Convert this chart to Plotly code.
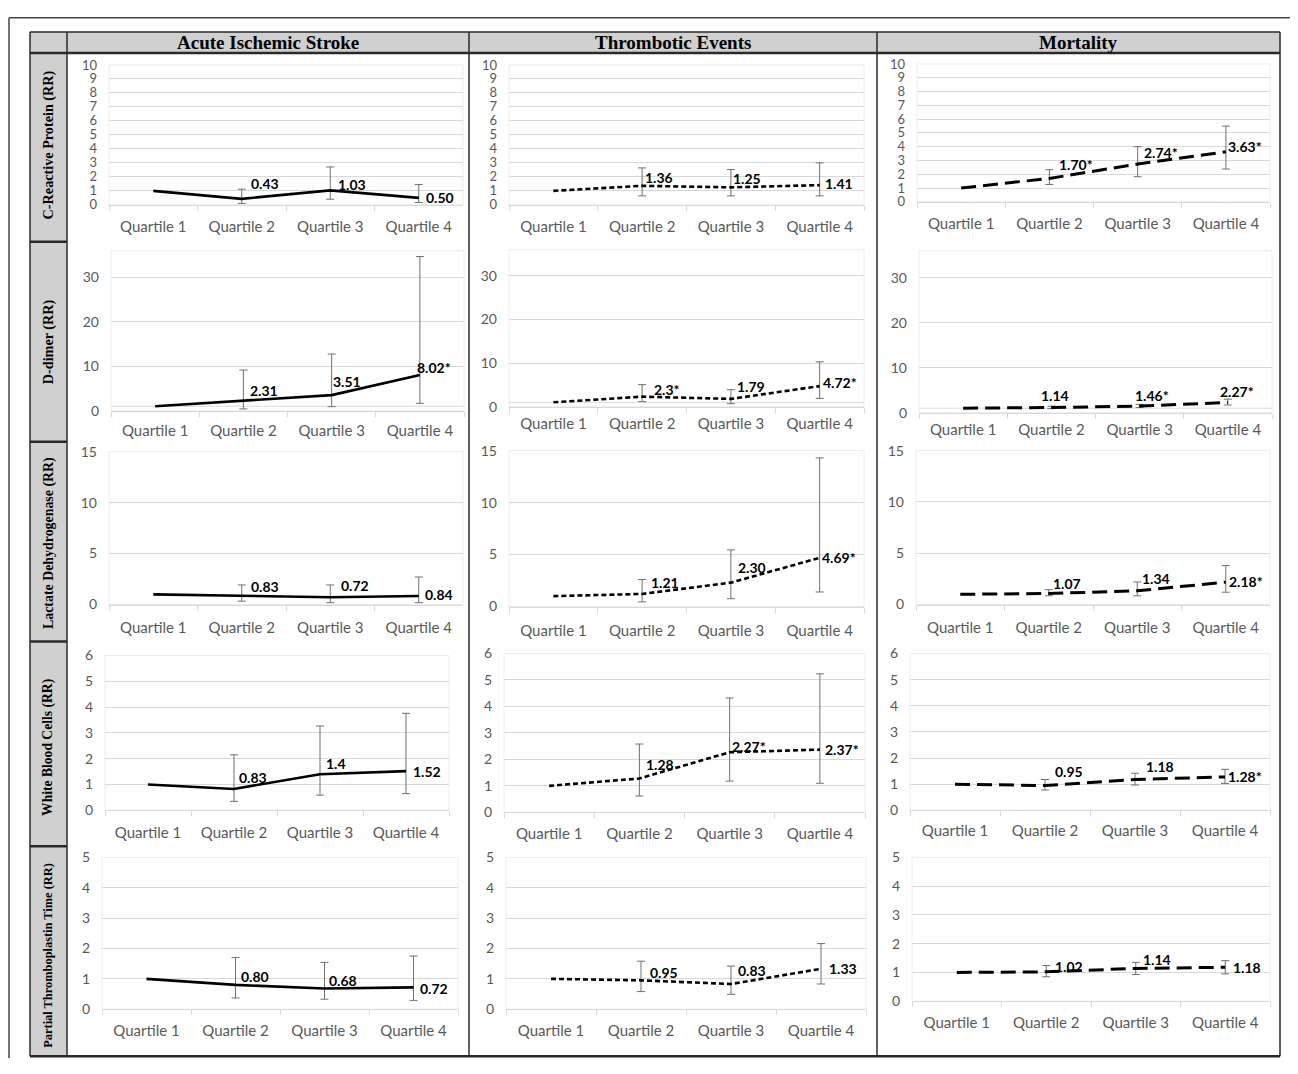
import plotly.graph_objects as go

# ---------------- data ----------------
categories = ["Quartile 1", "Quartile 2", "Quartile 3", "Quartile 4"]
outcomes = ["Acute Ischemic Stroke", "Thrombotic Events", "Mortality"]
markers = ["C-Reactive Protein (RR)", "D-dimer (RR)", "Lactate Dehydrogenase (RR)",
           "White Blood Cells (RR)", "Partial Thromboplastin Time (RR)"]

# each list: [Acute Ischemic Stroke, Thrombotic Events, Mortality]
crp_rr = [[1, 0.43, 1.03, 0.50], [1, 1.36, 1.25, 1.41], [1, 1.70, 2.74, 3.63]]
crp_lo = [[None, 0.10, 0.40, 0.17], [None, 0.64, 0.64, 0.64], [None, 1.26, 1.82, 2.38]]
crp_hi = [[None, 1.12, 2.71, 1.45], [None, 2.64, 2.52, 3.00], [None, 2.33, 4.00, 5.49]]
crp_lbl = [["", "0.43", "1.03", "0.50"], ["", "1.36", "1.25", "1.41"], ["", "1.70*", "2.74*", "3.63*"]]

ddimer_rr = [[1, 2.31, 3.51, 8.02], [1, 2.3, 1.79, 4.72], [1, 1.14, 1.46, 2.27]]
ddimer_lo = [[None, 0.40, 0.90, 1.65], [None, 1.15, 0.70, 1.90], [None, 0.90, 1.15, 1.70]]
ddimer_hi = [[None, 9.15, 12.75, 34.7], [None, 5.05, 3.90, 10.3], [None, 1.45, 1.85, 3.00]]
ddimer_lbl = [["", "2.31", "3.51", "8.02*"], ["", "2.3*", "1.79", "4.72*"], ["", "1.14", "1.46*", "2.27*"]]

ldh_rr = [[1, 0.83, 0.72, 0.84], [1, 1.21, 2.30, 4.69], [1, 1.07, 1.34, 2.18]]
ldh_lo = [[None, 0.33, 0.18, 0.18], [None, 0.45, 0.75, 1.40], [None, 0.85, 0.85, 1.20]]
ldh_hi = [[None, 1.92, 1.92, 2.70], [None, 2.60, 5.45, 14.3], [None, 1.45, 2.20, 3.80]]
ldh_lbl = [["", "0.83", "0.72", "0.84"], ["", "1.21", "2.30", "4.69*"], ["", "1.07", "1.34", "2.18*"]]

wbc_rr = [[1, 0.83, 1.4, 1.52], [1, 1.28, 2.27, 2.37], [1, 0.95, 1.18, 1.28]]
wbc_lo = [[None, 0.35, 0.59, 0.65], [None, 0.62, 1.18, 1.10], [None, 0.78, 0.97, 1.03]]
wbc_hi = [[None, 2.15, 3.27, 3.76], [None, 2.58, 4.32, 5.23], [None, 1.18, 1.42, 1.57]]
wbc_lbl = [["", "0.83", "1.4", "1.52"], ["", "1.28", "2.27*", "2.37*"], ["", "0.95", "1.18", "1.28*"]]

ptt_rr = [[1, 0.80, 0.68, 0.72], [1, 0.95, 0.83, 1.33], [1, 1.02, 1.14, 1.18]]
ptt_lo = [[None, 0.37, 0.33, 0.29], [None, 0.58, 0.49, 0.83], [None, 0.85, 0.93, 0.95]]
ptt_hi = [[None, 1.70, 1.54, 1.75], [None, 1.58, 1.42, 2.16], [None, 1.24, 1.35, 1.41]]
ptt_lbl = [["", "0.80", "0.68", "0.72"], ["", "0.95", "0.83", "1.33"], ["", "1.02", "1.14", "1.18"]]

y_max = [10, 36, 15, 6, 5]
y_dtick = [1, 10, 5, 1, 1]

rows = [
    (crp_rr, crp_lo, crp_hi, crp_lbl),
    (ddimer_rr, ddimer_lo, ddimer_hi, ddimer_lbl),
    (ldh_rr, ldh_lo, ldh_hi, ldh_lbl),
    (wbc_rr, wbc_lo, wbc_hi, wbc_lbl),
    (ptt_rr, ptt_lo, ptt_hi, ptt_lbl),
]

# ---------------- layout / style ----------------
PAGE_W, PAGE_H = 1298, 1074
OFF = 8                       # default page (body) margin
FW, FH = PAGE_W - 2 * OFF, PAGE_H - 2 * OFF
V_OFF, V_SCALE = 8.14, 0.9847  # observed vertical rendering of the page in the photo


def fx(px):
    return (px - OFF) / FW


def fy(py):
    page = (py - V_OFF) / V_SCALE
    return 1 - (page - OFF) / FH


# plot-area pixel boxes in picture coords: (x_left, x_right, y_top, y_zero)
panel_px = [
    [(109, 463, 64, 204), (509, 864, 64, 204), (917, 1270, 63, 201)],
    [(111, 464, 250, 410), (509, 864, 249, 406), (919, 1272, 250, 412)],
    [(109, 463, 451, 604), (509, 864, 450, 606), (916, 1270, 450, 604)],
    [(105, 449, 655, 810), (504, 865, 653, 812), (910, 1270, 653, 810)],
    [(102, 458, 857, 1009), (506, 866, 857, 1009), (912, 1270, 857, 1001)],
]
# gap between x axis and its category labels
x_label_standoff = [
    [8, 8, 8],
    [6, 3, 3],
    [9, 10, 9],
    [9, 8, 7],
    [8, 8, 8],
]
# data-label offsets from their point (dx right, dy up), pixels, Quartile 2..4
label_shift = [
    [[(23, 15), (22, 6), (21, 0)], [(17, 8), (16, 9), (19, 2)], [(27, 14), (23, 12), (19, 5)]],
    [[(21, 10), (15, 14), (14, 8)], [(25, 7), (20, 12), (20, 4)], [(4, 12), (12, 11), (9, 11)]],
    [[(23, 10), (25, 12), (20, 1)], [(23, 11), (21, 15), (19, 0)], [(18, 10), (19, 12), (20, 1)]],
    [[(19, 11), (16, 11), (21, 0)], [(21, 14), (19, 6), (22, 0)], [(24, 14), (25, 13), (20, 0)]],
    [[(19, 8), (18, 8), (20, -1)], [(23, 8), (21, 13), (22, 0)], [(23, 5), (21, 9), (22, 0)]],
]
line_styles = [
    dict(color="black", width=2.6, dash="solid"),
    dict(color="black", width=2.6, dash="5px,3px"),
    dict(color="black", width=3, dash="15px,7px"),
]

FONT_FAM = "Lato, 'Open Sans', sans-serif"
SERIF = "'Liberation Serif', 'Times New Roman', serif"
GRID = "#d9d9d9"
y_font_size = [13, 14, 14, 14, 14]

fig = go.Figure()
layout_axes = {}
shapes = []
annotations = []

for r, (rr, lo, hi, lbl) in enumerate(rows):
    for c in range(3):
        k = r * 3 + c + 1
        xs = "" if k == 1 else str(k)
        xref, yref = "x" + xs, "y" + xs
        vals = rr[c]
        errp = [None if h is None else h - v for h, v in zip(hi[c], vals)]
        errm = [None if l is None else v - l for l, v in zip(lo[c], vals)]
        # error bars (Quartile 2-4)
        fig.add_trace(go.Scatter(
            x=categories[1:], y=vals[1:], mode="markers",
            marker=dict(size=2, color="rgba(0,0,0,0)"),
            error_y=dict(type="data", symmetric=False, array=errp[1:], arrayminus=errm[1:],
                         color="#707070", thickness=1, width=4),
            xaxis=xref, yaxis=yref, hoverinfo="skip", showlegend=False))
        # line
        fig.add_trace(go.Scatter(
            x=categories, y=vals, mode="lines", line=line_styles[c],
            xaxis=xref, yaxis=yref, showlegend=False, name=outcomes[c]))
        # data labels, anchored on the data points
        for i in range(1, 4):
            dx, dy = label_shift[r][c][i - 1]
            annotations.append(dict(
                text="<b>%s</b>" % lbl[c][i], x=categories[i], y=vals[i],
                xref=xref, yref=yref, showarrow=False, xanchor="center", yanchor="middle",
                xshift=dx, yshift=dy,
                font=dict(family=FONT_FAM, size=14, color="black")))

        x0, x1, yt, y0 = panel_px[r][c]
        layout_axes["xaxis" + xs] = dict(
            domain=[fx(x0), fx(x1)], anchor=yref, type="category",
            categoryorder="array", categoryarray=categories, range=[-0.5, 3.5],
            tickson="boundaries", ticks="outside", ticklen=5, tickcolor=GRID,
            showline=True, linecolor=GRID, linewidth=1, mirror=False,
            showgrid=False, zeroline=False,
            tickfont=dict(family=FONT_FAM, size=15, color="#595959"),
            ticklabelstandoff=x_label_standoff[r][c], fixedrange=True)
        layout_axes["yaxis" + xs] = dict(
            domain=[fy(y0), fy(yt)], anchor=xref, range=[0, y_max[r]],
            dtick=y_dtick[r], tick0=0, showgrid=True, gridcolor=GRID, gridwidth=1,
            zeroline=False, showline=False, ticks="",
            tickfont=dict(family=FONT_FAM, size=y_font_size[r], color="#595959"),
            ticklabelstandoff=11, fixedrange=True)
        # faint plot-area frame
        shapes.append(dict(type="rect", xref=xref + " domain", yref=yref + " domain",
                           x0=0, x1=1, y0=0, y1=1, line=dict(color="#ececec", width=1),
                           layer="below"))
        if r == 1:
            shapes.append(dict(type="line", xref=xref + " domain", yref=yref,
                               x0=0, x1=1, y0=1, y1=1, line=dict(color=GRID, width=1),
                               layer="below"))


def px_line(xa, ya, xb, yb, width=1.5, color="#2a2a2a"):
    shapes.append(dict(type="line", xref="paper", yref="paper",
                       x0=fx(xa), x1=fx(xb), y0=fy(ya), y1=fy(yb),
                       line=dict(color=color, width=width)))


def px_rect(xa, ya, xb, yb, fill):
    shapes.append(dict(type="rect", xref="paper", yref="paper",
                       x0=fx(xa), x1=fx(xb), y0=fy(yb), y1=fy(ya),
                       fillcolor=fill, line=dict(width=0), layer="below"))


# table grid
T_LEFT, T_LAB, T_RIGHT = 30, 67, 1280
T_TOP, T_HEAD, T_BOT = 31, 52, 1056
col_div = [67, 469, 877, 1280]
row_div = [241, 441, 641, 846]

px_rect(T_LEFT, T_TOP, T_RIGHT, T_HEAD, "#d0d0d0")
px_rect(T_LEFT, T_HEAD, T_LAB, T_BOT, "#d0d0d0")
px_line(T_LEFT, T_TOP, T_RIGHT, T_TOP, 1.5)
px_line(T_LEFT, T_HEAD, T_RIGHT, T_HEAD, 2.5)
px_line(T_LEFT, T_BOT, T_RIGHT, T_BOT, 2.5)
px_line(T_LEFT, T_TOP, T_LEFT, T_BOT, 1.5)
for xd in col_div:
    px_line(xd, T_TOP, xd, T_BOT, 1.5)
for yd in row_div:
    px_line(T_LEFT, yd, T_LAB, yd, 2.5)
# outer picture frame (as high as the page allows)
shapes.append(dict(type="line", xref="paper", yref="paper", x0=fx(9), x1=1,
                   y0=1 - 0.8 / FH, y1=1 - 0.8 / FH, line=dict(color="#444444", width=1.5)))
shapes.append(dict(type="line", xref="paper", yref="paper", x0=fx(9), x1=fx(9),
                   y0=0, y1=1 - 0.8 / FH, line=dict(color="#444444", width=1.5)))

# column headers
for c, name in enumerate(outcomes):
    xc = (col_div[c] + col_div[c + 1]) / 2
    annotations.append(dict(text="<b>%s</b>" % name, x=fx(xc), y=fy(42),
                            xref="paper", yref="paper", showarrow=False,
                            xanchor="center", yanchor="middle",
                            font=dict(family=SERIF, size=19, color="black")))

# row labels
row_centers = [144, 341, 543, 747, 955]
row_sizes = [14.2, 14.2, 13.9, 13.6, 12.4]
for r, name in enumerate(markers):
    annotations.append(dict(text="<b>%s</b>" % name, x=fx(48.5), y=fy(row_centers[r]),
                            xref="paper", yref="paper", showarrow=False, textangle=-90,
                            xanchor="center", yanchor="middle",
                            font=dict(family=SERIF, size=row_sizes[r], color="black")))

fig.update_layout(
    width=FW, height=FH, margin=dict(l=0, r=0, t=0, b=0), autosize=False,
    paper_bgcolor="white", plot_bgcolor="white", showlegend=False,
    shapes=shapes, annotations=annotations, **layout_axes)

fig.write_html("out.html", config={"displayModeBar": False, "responsive": False})
